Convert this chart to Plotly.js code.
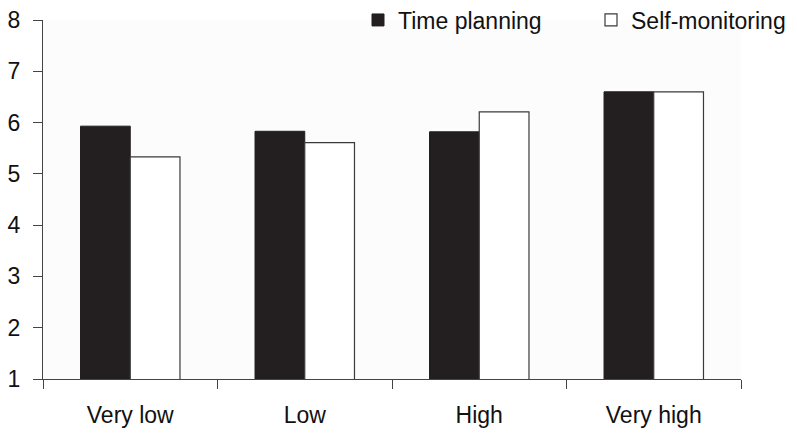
<!DOCTYPE html>
<html>
<head>
<meta charset="utf-8">
<script src="https://cdn.plot.ly/plotly-3.0.1.min.js"></script>
<style>html,body{margin:0;padding:0;background:#fff;}#chart{width:797px;height:433px;}</style>
</head>
<body>
<div id="chart"></div>
<script>
const categories = ["Very low", "Low", "High", "Very high"];
const timePlanning = [5.93, 5.83, 5.82, 6.60];
const selfMonitoring = [5.33, 5.61, 6.21, 6.60];
const seriesNames = ["Time planning", "Self-monitoring"];
const yTicks = [1, 2, 3, 4, 5, 6, 7, 8];

const font = "Liberation Sans, Arial, Helvetica, sans-serif";

const traces = [
  {
    type: "bar", name: seriesNames[0], x: categories, y: timePlanning,
    marker: { color: "#231f20", line: { color: "#231f20", width: 1 } }
  },
  {
    type: "bar", name: seriesNames[1], x: categories, y: selfMonitoring,
    marker: { color: "#ffffff", line: { color: "#3a3a3a", width: 1.2 } }
  }
];

const layout = {
  width: 797, height: 433,
  margin: { l: 43, r: 56, t: 20, b: 54, autoexpand: false },
  paper_bgcolor: "#ffffff",
  plot_bgcolor: "#fcfcfc",
  barmode: "group",
  bargap: 0.43,
  bargroupgap: 0,
  showlegend: true,
  font: { family: font, size: 23, color: "#111" },
  legend: {
    orientation: "h",
    xref: "container", yref: "container",
    x: 358 / 797, y: 1 - 20 / 433,
    xanchor: "left", yanchor: "middle",
    entrywidth: 188,
    font: { family: font, size: 23, color: "#111" },
    bgcolor: "rgba(0,0,0,0)",
    itemclick: false, itemdoubleclick: false,
    traceorder: "normal"
  },
  xaxis: {
    type: "category",
    range: [-0.5, 3.5],
    tickson: "boundaries",
    ticks: "outside", ticklen: 9, tickwidth: 1, tickcolor: "#444",
    showline: true, linecolor: "#444", linewidth: 1,
    showgrid: false, zeroline: false,
    tickfont: { family: font, size: 23, color: "#111" },
    ticklabelstandoff: 15,
    fixedrange: true
  },
  yaxis: {
    range: [1, 8],
    tickvals: yTicks,
    ticks: "outside", ticklen: 9, tickwidth: 1, tickcolor: "#444",
    showline: true, linecolor: "#444", linewidth: 1,
    showgrid: false, zeroline: false,
    tickfont: { family: font, size: 23, color: "#111" },
    ticklabelstandoff: 8,
    fixedrange: true
  }
};

Plotly.newPlot("chart", traces, layout, { displayModeBar: false, staticPlot: true });
</script>
</body>
</html>
